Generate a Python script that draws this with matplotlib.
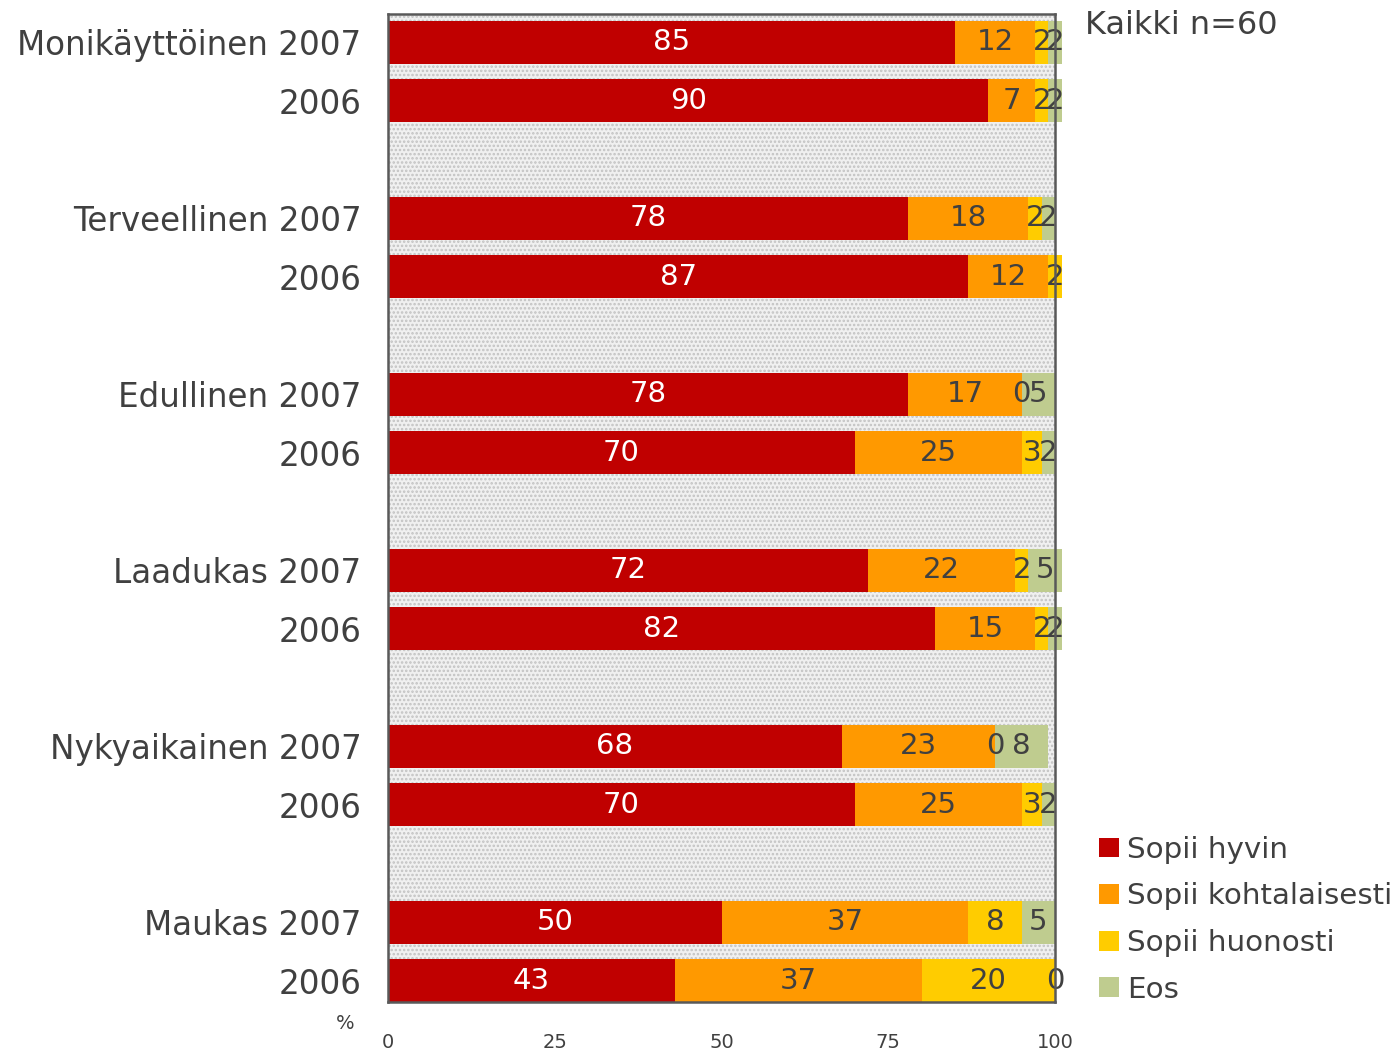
import numpy as np
import matplotlib
matplotlib.use("Agg")
import matplotlib.pyplot as plt
from matplotlib.patches import Patch, Rectangle

plt.rcParams["font.family"] = ["DejaVu Sans"]
plt.rcParams["hatch.linewidth"] = 1.2

# Data
row_labels = ["Monikäyttöinen 2007", "2006",
              "Terveellinen 2007", "2006",
              "Edullinen 2007", "2006",
              "Laadukas 2007", "2006",
              "Nykyaikainen 2007", "2006",
              "Maukas 2007", "2006"]
series_names = ["Sopii hyvin", "Sopii kohtalaisesti", "Sopii huonosti", "Eos"]
hyvin = [85, 90, 78, 87, 78, 70, 72, 82, 68, 70, 50, 43]
kohtalaisesti = [12, 7, 18, 12, 17, 25, 22, 15, 23, 25, 37, 37]
huonosti = [2, 2, 2, 2, 0, 3, 2, 2, 0, 3, 8, 20]
eos = [2, 2, 2, np.nan, 5, 2, 5, 2, 8, 2, 5, 0]
x_ticks = [0, 25, 50, 75, 100]

colors = ["#c00000", "#ff9900", "#ffcc00", "#bfcc8f"]
text_dark = "#404040"

# slots: two bars per group, one empty slot between groups
ypos = []
for g in range(6):
    ypos += [3 * g, 3 * g + 1]
ypos = np.array(ypos, dtype=float)

fig = plt.figure(figsize=(13.98, 10.5), dpi=100)
ax = fig.add_axes([0.2775, 0.0457, 0.4772, 0.941])
ax.set_facecolor("#f0f0f0")
# dotted background
ax.add_patch(Rectangle((0, 0), 1, 1, transform=ax.transAxes, facecolor="#f0f0f0",
                       edgecolor="#c2c2c2", hatch="....", linewidth=0, zorder=0))

left = np.zeros(len(ypos))
for name, vals, col in zip(series_names, [hyvin, kohtalaisesti, huonosti, eos], colors):
    v = np.array(vals, dtype=float)
    w = np.nan_to_num(v)
    ax.barh(ypos, w, left=left, height=0.73, color=col, label=name,
            clip_on=False, zorder=2, linewidth=0)
    tcol = "white" if col == colors[0] else text_dark
    for yy, l, val in zip(ypos, left, v):
        if np.isnan(val):
            continue
        ax.text(l + val / 2, yy, f"{int(val)}", ha="center", va="center",
                fontsize=21, color=tcol, zorder=3, clip_on=False)
    left = left + w

ax.set_xlim(0, 100)
ax.set_ylim(16.36, -0.48)
ax.set_xticks(x_ticks)
ax.set_xticklabels([str(t) for t in x_ticks], fontsize=14, color=text_dark)
ax.set_yticks(ypos)
ax.set_yticklabels(row_labels, fontsize=23.5, color=text_dark)
ax.tick_params(axis="x", length=0, pad=22)
ax.tick_params(axis="y", length=0, pad=19)
for s in ax.spines.values():
    s.set_color("#595959")
    s.set_linewidth(1.8)
    s.set_zorder(4)

fig.text(0.247, 0.0165, "%", fontsize=14, color=text_dark, ha="center", va="bottom")
fig.text(0.776, 0.976, "Kaikki n=60", fontsize=23, color=text_dark, ha="left", va="center")

handles = [Patch(facecolor=c, edgecolor="none") for c in colors]
leg = fig.legend(handles, series_names, loc="lower left",
                 bbox_to_anchor=(0.778, 0.033), frameon=False, fontsize=21.2,
                 handlelength=0.65, handleheight=0.65, handletextpad=0.3,
                 labelspacing=0.63, borderaxespad=0)
for t in leg.get_texts():
    t.set_color(text_dark)

fig.savefig("out.png", dpi=100)
